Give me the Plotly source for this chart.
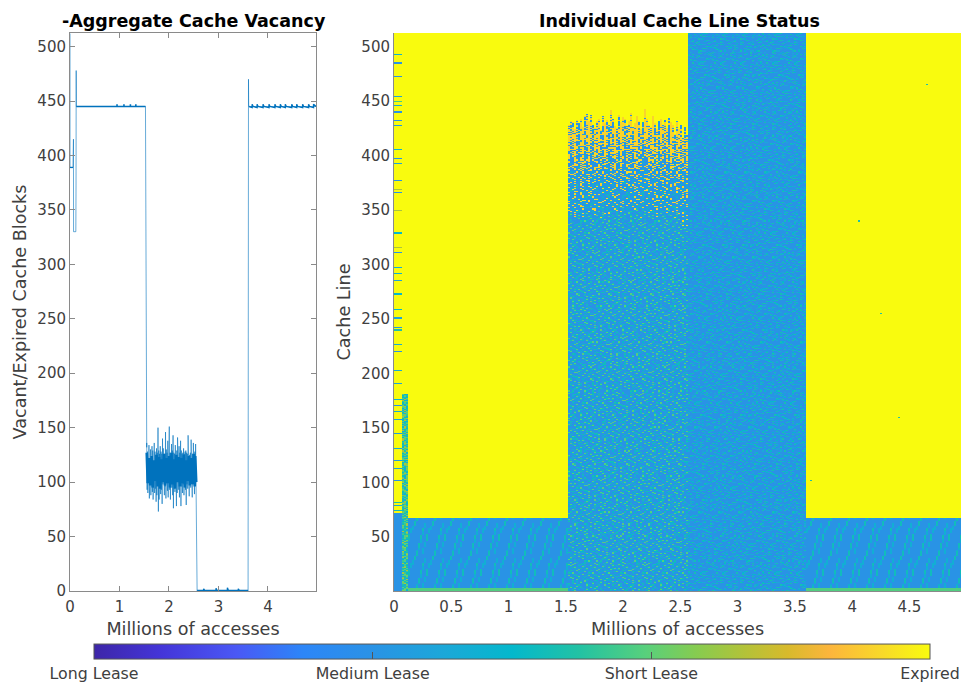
import plotly.graph_objects as go

# ---------- colour bar / categories ----------
LEASE_VALUES = [0, 1, 2, 3]
LEASE_LABELS = ["Long Lease", "Medium Lease", "Short Lease", "Expired"]
PALETTE = [[0.00, "#3d26a8"], [0.08, "#4435d8"], [0.17, "#4a58f5"], [0.25, "#2c86f8"],
           [0.33, "#2a92e6"], [0.42, "#1ba8d8"], [0.50, "#04b8cc"], [0.58, "#22c2a4"],
           [0.66, "#58d07c"], [0.72, "#86cc50"], [0.78, "#b4c238"], [0.83, "#d8ba2c"],
           [0.88, "#fcb53c"], [0.94, "#f8d82a"], [1.00, "#f9fb0e"]]

# ---------- left panel: vacancy series (millions, blocks) ----------
OUTLINE_X = [0, 0, 0.06, 0.062, 0.07, 0.072, 0.118, 0.122, 0.125, 0.128, 1.525, 1.53, 1.54, 1.55]
OUTLINE_Y = [512, 389, 389, 415, 415, 330, 330, 372, 478, 445, 445, 292, 290, 132]
NOISE_HI = [136, 128, 126, 134, 125, 130, 127, 133, 129, 126, 136, 128, 125, 131, 127, 150, 129, 126, 133, 128,
            126, 140, 131, 127, 126, 146, 130, 127, 138, 128, 151, 127, 126, 135, 129, 143, 127, 126, 134, 127,
            129, 141, 126, 133, 127, 138, 129, 126, 127, 131, 126, 128, 129, 127, 126, 143, 128, 125, 127, 139,
            127, 126, 136, 127, 128, 135]
NOISE_LO = [93, 90, 97, 85, 96, 88, 99, 91, 84, 98, 90, 94, 82, 88, 97, 73, 84, 96, 89, 93,
            80, 98, 92, 88, 96, 85, 99, 92, 86, 97, 93, 84, 98, 95, 88, 76, 97, 91, 98, 78,
            90, 97, 93, 86, 98, 78, 96, 90, 98, 88, 97, 93, 79, 98, 94, 91, 87, 98, 95, 92,
            86, 98, 97, 89, 98, 94]
NOISE_START, NOISE_STEP = 1.55, 0.0152
# solid dark core of the noisy phase
CORE_X = [1.55, 1.60, 1.65, 1.70, 1.75, 1.80, 1.85, 1.90, 1.95, 2.00, 2.05, 2.10, 2.15, 2.20, 2.25, 2.30, 2.35, 2.40, 2.45, 2.50, 2.53]
CORE_HI = [127, 122, 124, 120, 125, 123, 121, 126, 122, 124, 127, 121, 125, 123, 122, 125, 120, 124, 122, 126, 124]
CORE_LO = [99, 97, 95, 101, 96, 94, 100, 97, 99, 95, 98, 94, 100, 96, 99, 95, 101, 97, 98, 96, 100]
TAIL_X = [2.552, 2.556, 2.56, 2.568, 3.598, 3.602, 3.606, 3.61, 3.625, 4.97]
TAIL_Y = [96, 62, 48, 0, 0, 372, 470, 445, 445, 445]
FLAT1_X = [0.128, 0.95, 0.95, 0.951, 1.09, 1.09, 1.091, 1.22, 1.22, 1.221, 1.33, 1.33, 1.331, 1.525]
FLAT1_Y = [445, 445, 447, 445, 445, 447, 445, 445, 447, 445, 445, 447, 445, 445]
FLAT2_X = [3.62, 3.68, 3.68, 3.70, 3.78, 3.78, 3.80, 3.90, 3.90, 3.92, 4.02, 4.02, 4.04, 4.14, 4.14, 4.16, 4.25, 4.25,
           4.27, 4.35, 4.35, 4.37, 4.48, 4.48, 4.50, 4.58, 4.58, 4.60, 4.70, 4.70, 4.72, 4.82, 4.82, 4.84, 4.92, 4.92, 4.97]
FLAT2_Y = [445, 444, 447, 445, 444, 447, 445, 444, 447, 445, 444, 447, 445, 444, 447, 445, 444, 447,
           445, 444, 447, 445, 444, 447, 445, 444, 447, 445, 444, 447, 445, 444, 447, 445, 444, 447, 445]
LOW_X = [2.568, 2.70, 2.70, 2.72, 2.95, 2.95, 2.97, 3.18, 3.18, 3.20, 3.40, 3.40, 3.42, 3.598]
LOW_Y = [0.5, 0.5, 2, 0.5, 0.5, 2.5, 0.5, 0.5, 3, 0.5, 0.5, 2, 0.5, 0.5]

# ---------- right panel: structure ----------
CELL_M = 0.01745                     # millions of accesses per column
N_COLS, N_ROWS = 284, 512
LEFT_BAND_END, GREEN_BAND_END = 0.07, 0.128
PHASE_A_END, PHASE_B_END, PHASE_C_END = 1.518, 2.557, 3.595
BAND_TOP, LOW_BLOCK_TOP, LEFT_BLOCK_TOP = 181, 67, 72
STRIPE_ROWS = [493, 485, 473, 454, 450, 446, 440, 432, 428, 406, 397, 393, 377, 369, 366, 350, 329, 316, 311,
               297, 292, 285, 273, 259, 251, 242, 240, 227, 220, 203, 191, 176, 171, 165, 158, 145, 131, 120, 113, 102, 82, 79, 74]
STRIPE_VALS = [1.4, 1.0, 1.0, 1.2, 1.9, 1.3, 1.0, 1.0, 1.1, 1.4, 1.0, 1.2, 1.0, 2.3, 1.0, 2.3, 1.5, 2.3, 1.0,
               1.3, 1.4, 1.2, 1.5, 1.5, 1.2, 1.1, 1.7, 1.3, 1.0, 1.3, 1.2, 1.4, 1.0, 1.3, 1.2, 1.1, 1.3, 1.1, 1.2, 1.0, 1.7, 1.3, 1.6]
# highest row of the phase-B speckle in each column (from the jagged upper edge)
PHASE_B_TOPS = [428, 431, 430, 424, 432, 429, 433, 426, 436, 438, 431, 437, 428, 425, 431, 433, 423, 436, 429, 432,
                428, 441, 433, 427, 425, 437, 430, 435, 433, 427, 431, 439, 426, 429, 436, 431, 424, 430, 442, 433,
                428, 426, 436, 429, 424, 431, 433, 428, 432, 425, 434, 430, 428, 419, 431, 424, 428, 416, 426, 418]
# vertical streak strength per column in the top of phase B (negative: more blue)
PHASE_B_STREAKS = [1, -2, 0, 2, -1, -3, 1, 2, -2, 0, 3, -1, -3, 1, 0, 2, -2, -1, 3, 0,
                   -3, 1, -1, 2, 0, -2, 3, 1, -3, 0, -1, 2, -2, 1, 3, -1, 0, -3, 2, 1,
                   -1, 0, 3, -2, 1, -3, 2, 0, -1, 1, -2, 3, 0, -3, 1, 2, -1, 0, -2, 1]
# (row, how many of the ten digits turn yellow) bands for the transition near the top of phase B
YELLOW_BANDS = [(360, 1), (385, 2), (400, 3), (412, 5), (425, 6)]
STRAY_CELLS = [(4.05, 340), (4.25, 255), (4.40, 160), (4.65, 465), (3.63, 102)]

# Hand-typed texture: stands in for the speckle, which cannot be read cell by cell.
SPECKLE = [
    "7395128804617392058661427930581649372", "2860417739502671843957026184937754120", "5174933620835149072638195402716398845",
    "9403281176594402368175940321786590627", "1627855039471628509346172890534612983", "8035692214708356921478025369147074516",
    "4718305592647183069254178093625820731", "6259147703862591438076259148307195264", "0947263381509472635180942763518466902",
    "3581729906403581729640358712964033175", "7126490485371264908537126498503722849", "2493058817624930581762493058176201536",
    "8650174339286501743928650174392866407", "1374962208513749620851374962085195283", "5908231174659082317465908231746537019",
    "4267815593042678159304267815930448162", "9812047736598120473659812047365920754", "0536794412805367941280536794128076391",
    "6741350089267413508926741350892613845", "3189526604731895260473189526047359027", "7052683391470526839147052683914786210",
    "2946107758329461075832946107583240968", "8473915526084739152608473915260851734", "1620748835916207483591620748359197402",
    "4015836279164050873129645380172965318", "9382071564219837046521783609245138076"]
ROW_SHIFTS = [0, 13, 5, 22, 9, 17, 3, 27, 11, 19, 7, 25, 2, 15, 29, 6, 21, 33, 1]
HATCH = [
    "..g......", "..g......", "..g..a...", "..g..a...", "..g..a...", "..a..a...", "...a.a...", "...g.....",
    "...g..a..", "...g..a..", "...g..a..", "...g..a..", "....a.a..", "....a....", "....a..g.", "....a..g.",
    "....g..g.", "....g..g.", "....g..g.", ".....a.g.", ".....a...", ".....a..a", ".....a..a", ".....g..a",
    "a....g..a", "a....g..a", "a.....a..", "a.....a..", ".g....a..", ".g....a..", ".g.......", ".g......."]
CELL_Z = {"base": 1.0, "a": 1.35, "g": 1.6, "expired": 3.0, "floor": 1.95}


def digit(r, c):
    row = SPECKLE[r % len(SPECKLE)]
    return int(row[(c + ROW_SHIFTS[(r // len(SPECKLE)) % len(ROW_SHIFTS)]) % len(row)])


def speckle(d, colours):
    return colours.get(d, CELL_Z["base"])


DENSE = {0: 1.95, 1: 1.65, 2: 1.45, 3: 1.3}
SPARSE = {1: 1.65, 4: 1.45, 7: 1.25}
BAND = {0: 2.3, 1: 2.1, 2: 2.0, 3: 1.95, 4: 1.85, 5: 1.75, 6: 1.65, 7: 1.55, 8: 1.45, 9: 1.3}
COL_LEFT = int(round(LEFT_BAND_END / CELL_M))
COL_BAND = int(round(GREEN_BAND_END / CELL_M))
COL_A, COL_B, COL_C = [int(round(v / CELL_M)) for v in (PHASE_A_END, PHASE_B_END, PHASE_C_END)]

z = []
for r1 in range(1, N_ROWS + 1):
    r = r1 - 1
    line = []
    for c in range(N_COLS):
        d = digit(r, c)
        if c < COL_LEFT:
            v = CELL_Z["base"] if r1 <= LEFT_BLOCK_TOP else CELL_Z["expired"]
            if r1 in STRIPE_ROWS:
                v = STRIPE_VALS[STRIPE_ROWS.index(r1)]
        elif c < COL_BAND:
            v = speckle(d, BAND) if r1 <= BAND_TOP else CELL_Z["expired"]
        elif c < COL_A or c >= COL_C:
            if r1 <= 3:
                v = CELL_Z["floor"]
            elif r1 <= LOW_BLOCK_TOP:
                h = HATCH[r % len(HATCH)][c % 9]
                v = CELL_Z.get(h, CELL_Z["base"])
            else:
                v = CELL_Z["expired"]
        elif c < COL_B:
            i = min(c - COL_A, len(PHASE_B_TOPS) - 1)
            top = PHASE_B_TOPS[i]
            if r1 > top:
                v = CELL_Z["expired"]
            else:
                eff = r1 + (442 - top)
                th = 0
                for low, frac in YELLOW_BANDS:
                    if eff >= low:
                        th = frac * (1 + PHASE_B_STREAKS[i] / 4)
                v = 2.8 if d < th else speckle(d, DENSE)
        else:
            v = speckle(d, SPARSE)
        line.append(v)
    z.append(line)
for m, row_ in STRAY_CELLS:
    z[row_ - 1][int(m / CELL_M)] = 1.7

xs = [(i + 0.5) * CELL_M for i in range(N_COLS)]
ys = list(range(1, N_ROWS + 1))

noise_x, noise_y = [], []
for i, (hi, lo) in enumerate(zip(NOISE_HI, NOISE_LO)):
    noise_x += [NOISE_START + i * NOISE_STEP, NOISE_START + (i + 0.5) * NOISE_STEP]
    noise_y += [hi, lo]
core_x = [v for x_ in CORE_X for v in (x_, x_ + 0.02)]
core_y = [v for pair in zip(CORE_HI, CORE_LO) for v in pair]

W, H = 961, 684
BLUE = "#0072BD"
GREY = "#8a8a8a"
TXT = "#404040"
FONT = "DejaVu Sans"
fig = go.Figure()
fig.add_trace(go.Scatter(x=OUTLINE_X + noise_x + TAIL_X, y=OUTLINE_Y + noise_y + TAIL_Y, mode="lines",
                         line=dict(color=BLUE, width=0.6), xaxis="x", yaxis="y", showlegend=False))
for fx, fy, lw in ((FLAT1_X, FLAT1_Y, 1.6), (FLAT2_X, FLAT2_Y, 1.4), (LOW_X, LOW_Y, 1.4), ([0, 0.06], [389, 389], 1.3),
                   (core_x, core_y, 2.6)):
    fig.add_trace(go.Scatter(x=fx, y=fy, mode="lines", line=dict(color=BLUE, width=lw),
                             xaxis="x", yaxis="y", showlegend=False))
fig.add_trace(go.Heatmap(x=xs, y=ys, z=z, zmin=0, zmax=3, colorscale=PALETTE, xaxis="x2", yaxis="y2",
                         colorbar=dict(orientation="h", x=94 / W, xanchor="left", y=-7 / H, yanchor="bottom",
                                       len=836 / W, lenmode="fraction", thickness=15, thicknessmode="pixels",
                                       xpad=0, ypad=0, outlinecolor="#555555", outlinewidth=1,
                                       tickvals=LEASE_VALUES, ticktext=LEASE_LABELS, ticks="inside", ticklen=7,
                                       tickcolor="#555555", tickfont=dict(family=FONT, size=15.8, color=TXT))))


def axis(domain, rng, ticks, title, standoff, anchor, tick_len=5, mirror="ticks", label_gap=0):
    return dict(domain=domain, range=rng, tickvals=ticks, ticktext=[str(t) for t in ticks], anchor=anchor,
                title=dict(text=title, font=dict(family=FONT, size=17.6, color=TXT), standoff=standoff),
                tickfont=dict(family=FONT, size=15, color=TXT), ticks="inside" if tick_len else "", ticklen=tick_len,
                tickcolor=GREY, showline=True, linecolor=GREY, linewidth=1, mirror=mirror, showgrid=False,
                zeroline=False, automargin=False, ticklabelstandoff=label_gap)


Y_DOM = [(H - 591) / H, (H - 33) / H]
fig.update_layout(
    width=W, height=H, paper_bgcolor="white", plot_bgcolor="white",
    margin=dict(l=0, r=0, t=0, b=0, autoexpand=False),
    xaxis=axis([70 / W, 316 / W], [0, 4.97], [0, 1, 2, 3, 4], "Millions of accesses", 7, "y", label_gap=2),
    yaxis=axis(Y_DOM, [0, 512.5], list(range(0, 501, 50)), "Vacant/Expired Cache Blocks", 6, "x"),
    xaxis2=axis([394 / W, 1], [0, 4.95], [0, 0.5, 1, 1.5, 2, 2.5, 3, 3.5, 4, 4.5], "Millions of accesses", 7, "y2", 0, False, 2),
    yaxis2=axis(Y_DOM, [0.5, 512.5], list(range(50, 501, 50)), "Cache Line", 6, "x2", 0, False),
    annotations=[
        dict(text="<b>-Aggregate Cache Vacancy</b>", x=194 / W, y=(H - 21) / H, xref="paper", yref="paper",
             xanchor="center", yanchor="middle", showarrow=False, font=dict(family=FONT, size=17.5, color="black")),
        dict(text="<b>Individual Cache Line Status</b>", x=679 / W, y=(H - 21) / H, xref="paper", yref="paper",
             xanchor="center", yanchor="middle", showarrow=False, font=dict(family=FONT, size=17.5, color="black")),
    ],
)
fig.write_html("out.html", post_script="document.body.style.margin='0';", config={"displayModeBar": False})
